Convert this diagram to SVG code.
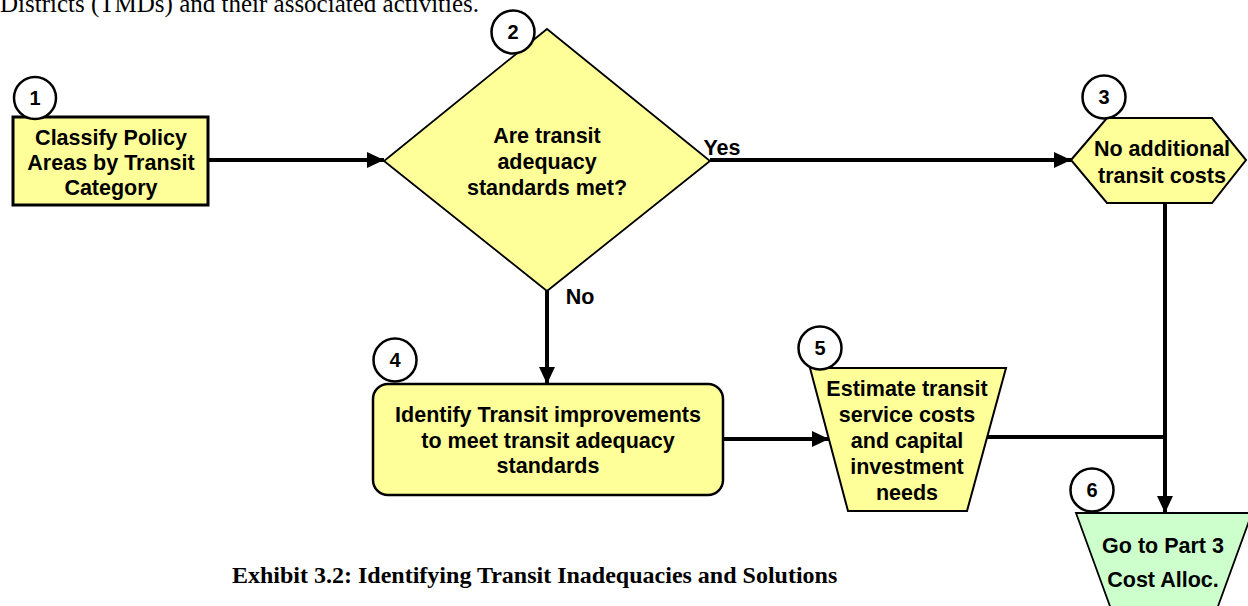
<svg xmlns="http://www.w3.org/2000/svg" width="1248" height="606" viewBox="0 0 1248 606">
<style>
.lbl{font-family:"Liberation Sans",Arial,sans-serif;font-weight:bold;font-size:21.5px;fill:#000;text-anchor:middle}
.num{font-family:"Liberation Sans",Arial,sans-serif;font-weight:bold;font-size:20px;fill:#000;text-anchor:middle}
.serif{font-family:"Liberation Serif","Times New Roman",serif;fill:#000}
.yel{fill:#FFFF99;stroke:#000}
.grn{fill:#CCFFCC;stroke:#000}
.badge{fill:#fff;stroke:#000;stroke-width:2.5}
.conn{stroke:#000;stroke-width:4;fill:none}
</style>
<defs>
<marker id="ah" markerUnits="userSpaceOnUse" markerWidth="18" markerHeight="16" refX="17" refY="8" orient="auto">
<path d="M0,0 L17,8 L0,16 Z" fill="#000"/>
</marker>
</defs>
<text class="serif" x="0" y="12" font-size="25">Districts (TMDs) and their associated activities.</text>
<g id="connectors">
<line class="conn" x1="208" y1="160" x2="384" y2="160" marker-end="url(#ah)"/>
<line class="conn" x1="710" y1="160" x2="1071" y2="160" marker-end="url(#ah)"/>
<line class="conn" x1="547" y1="291" x2="547" y2="384" marker-end="url(#ah)"/>
<line class="conn" x1="723" y1="439" x2="829" y2="439" marker-end="url(#ah)"/>
<line class="conn" x1="986" y1="437" x2="1167" y2="437"/>
<line class="conn" x1="1165" y1="203" x2="1165" y2="513" marker-end="url(#ah)"/>
<text class="lbl" x="722" y="155" font-size="19">Yes</text>
<text class="lbl" x="580" y="304" font-size="19">No</text>
</g>
<g id="node1">
<rect class="yel" x="13" y="117" width="195" height="88" stroke-width="3"/>
<text class="lbl" x="111" y="145">Classify Policy</text>
<text class="lbl" x="111" y="170">Areas by Transit</text>
<text class="lbl" x="111" y="195">Category</text>
<circle class="badge" cx="35" cy="98" r="21"/>
<text class="num" x="35" y="105">1</text>
</g>
<g id="node2">
<polygon class="yel" points="547,29 710,161 547,291 384,161" stroke-width="1.8"/>
<text class="lbl" x="547" y="143">Are transit</text>
<text class="lbl" x="547" y="169">adequacy</text>
<text class="lbl" x="547" y="195">standards met?</text>
<circle class="badge" cx="513" cy="32" r="21.5"/>
<text class="num" x="513" y="39">2</text>
</g>
<g id="node3">
<polygon class="yel" points="1071,160 1107,118 1212,118 1246,160 1212,203 1107,203" stroke-width="2"/>
<text class="lbl" x="1162" y="156">No additional</text>
<text class="lbl" x="1162" y="183">transit costs</text>
<circle class="badge" cx="1104" cy="97" r="21.5"/>
<text class="num" x="1104" y="104">3</text>
</g>
<g id="node4">
<rect class="yel" x="373" y="384" width="350" height="111" rx="15" ry="15" stroke-width="2.5"/>
<text class="lbl" x="548" y="422">Identify Transit improvements</text>
<text class="lbl" x="548" y="448">to meet transit adequacy</text>
<text class="lbl" x="548" y="473">standards</text>
<circle class="badge" cx="395" cy="360" r="21.5"/>
<text class="num" x="395" y="367">4</text>
</g>
<g id="node5">
<polygon class="yel" points="810,368 1006,368 967,511 848,511" stroke-width="2"/>
<text class="lbl" x="907" y="396">Estimate transit</text>
<text class="lbl" x="907" y="422">service costs</text>
<text class="lbl" x="907" y="448">and capital</text>
<text class="lbl" x="907" y="474">investment</text>
<text class="lbl" x="907" y="500">needs</text>
<circle class="badge" cx="820" cy="348" r="21.5"/>
<text class="num" x="820" y="355">5</text>
</g>
<g id="node6">
<polygon class="grn" points="1076,513 1252,513 1213,620 1115,620" stroke-width="1.8"/>
<text class="lbl" x="1163" y="553">Go to Part 3</text>
<text class="lbl" x="1163" y="587">Cost Alloc.</text>
<circle class="badge" cx="1092" cy="490" r="21.5"/>
<text class="num" x="1092" y="497">6</text>
</g>
<text class="serif" x="232" y="583" font-size="24" font-weight="bold">Exhibit 3.2: Identifying Transit Inadequacies and Solutions</text>
</svg>
